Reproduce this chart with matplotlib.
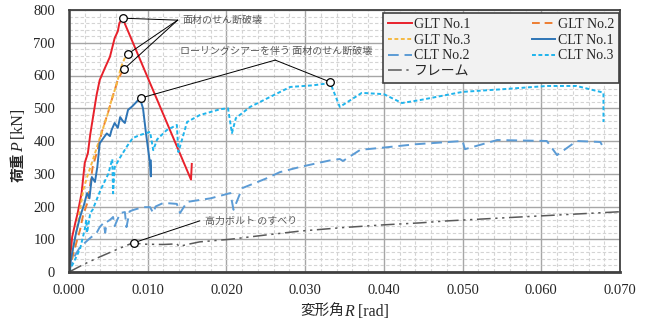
import matplotlib
matplotlib.use("Agg")
import matplotlib.pyplot as plt
import matplotlib.transforms as mtrans
import numpy as np

# ---- data ----
glt1_R = [0, 0.0004, 0.0008, 0.0011, 0.0016, 0.0020, 0.0024, 0.0027, 0.0031, 0.0035, 0.0039,
          0.0046, 0.0052, 0.0058, 0.0062, 0.0064, 0.0068, 0.0155, 0.0156]
glt1_P = [0, 107, 150, 180, 241, 333, 363, 420, 480, 540, 586,
          625, 657, 714, 735, 760, 775, 282, 330]

glt2_R = [0, 0.0005, 0.0010, 0.0014, 0.0018, 0.0024, 0.0030, 0.0036, 0.0042, 0.0050,
          0.0056, 0.0062, 0.0066, 0.0070]
glt2_P = [0, 50, 95, 128, 175, 215, 320, 370, 430, 490, 540, 586, 605, 620]

glt3_R = [0, 0.0005, 0.0010, 0.0014, 0.0018, 0.0023, 0.0030, 0.0036, 0.0042, 0.0048,
          0.0054, 0.0061, 0.0066, 0.0072]
glt3_P = [0, 70, 130, 190, 250, 290, 340, 385, 430, 473, 525, 577, 625, 660]

clt1_R = [0, 0.0004, 0.0009, 0.0014, 0.0019, 0.0023, 0.0026, 0.0029, 0.0033, 0.0036, 0.0039,
          0.0044, 0.0048, 0.0052, 0.0054, 0.0058, 0.0062, 0.0065, 0.0068, 0.0071, 0.0075,
          0.0080, 0.0086, 0.0090, 0.0094, 0.0098, 0.0103, 0.0104, 0.0104]
clt1_P = [0, 58, 120, 168, 205, 241, 225, 290, 275, 321, 393,
          410, 423, 415, 433, 455, 440, 473, 462, 455, 495,
          505, 520, 531, 500, 420, 330, 292, 340]

clt2_R = [0, 0.0005, 0.0014, 0.0027, 0.0035, 0.0039, 0.0044, 0.0046, 0.0048, 0.0052, 0.0056,
          0.0058, 0.0065, 0.0071, 0.0073, 0.0077, 0.0081, 0.0094, 0.0103, 0.0107, 0.0110,
          0.0120, 0.0137, 0.0141, 0.0150, 0.0180, 0.0205, 0.0209, 0.0220, 0.0250, 0.0268,
          0.0294, 0.0330, 0.0344, 0.0348, 0.0370, 0.0400, 0.0440, 0.0500, 0.0503, 0.0522,
          0.0544, 0.0607, 0.0620, 0.0645, 0.0675, 0.0677]
clt2_P = [0, 40, 76, 104, 119, 137, 150, 120, 153, 159, 168,
          140, 180, 183, 137, 185, 189, 198, 198, 180, 200,
          211, 208, 180, 214, 225, 241, 190, 256, 285, 305,
          321, 340, 345, 339, 373, 380, 390, 400, 375, 388,
          403, 400, 357, 400, 397, 388]

clt3_R = [0, 0.0005, 0.0014, 0.0020, 0.0022, 0.0023, 0.0027, 0.0030, 0.0040, 0.0050, 0.0055,
          0.0056, 0.0058, 0.0065, 0.0074, 0.0081, 0.0090, 0.0103, 0.0107, 0.0112, 0.0124,
          0.0137, 0.0139, 0.0150, 0.0166, 0.0192, 0.0202, 0.0207, 0.0212, 0.0230, 0.0260,
          0.0281, 0.0310, 0.0332, 0.0344, 0.0372, 0.0400, 0.0423, 0.0446, 0.0500, 0.0550,
          0.0607, 0.0645, 0.0675, 0.0679, 0.0679]
clt3_P = [0, 25, 70, 130, 160, 120, 180, 190, 250, 300, 345,
          240, 320, 350, 385, 409, 418, 428, 372, 405, 433,
          449, 366, 458, 479, 497, 500, 424, 470, 504, 540,
          565, 570, 577, 504, 547, 543, 516, 525, 550, 558,
          568, 568, 550, 547, 458]

frame_R = [0, 0.0020, 0.0039, 0.0060, 0.0081, 0.0095, 0.0120, 0.0137, 0.0140, 0.0150, 0.0166,
           0.0205, 0.0250, 0.0294, 0.0350, 0.0400, 0.0446, 0.0480, 0.0573, 0.0700]
frame_P = [0, 25, 46, 68, 89, 85, 84, 86, 78, 84, 92,
           100, 113, 125, 136, 144, 150, 156, 168, 184]

# annotated points
mark_R = [0.0068, 0.0075, 0.0070, 0.0091, 0.0332, 0.0082]
mark_P = [775, 666, 620, 531, 580, 89]

SERIF = ['Liberation Serif', 'Noto Sans CJK JP']
CJK = ['Noto Sans CJK JP', 'DejaVu Sans']

fig = plt.figure(figsize=(6.52, 3.27), dpi=100)
ax = fig.add_axes([69/652, 55/327, 551/652, 262/327])

l_g1, = ax.plot(glt1_R, glt1_P, color='#e8212b', lw=1.4, label='GLT No.1')
l_g2, = ax.plot(glt2_R, glt2_P, color='#ed7d31', lw=1.4, dashes=(4, 2.5), label='GLT No.2')
l_g3, = ax.plot(glt3_R, glt3_P, color='#f5b942', lw=1.4, dashes=(2, 1.3), label='GLT No.3')
l_c1, = ax.plot(clt1_R, clt1_P, color='#2e75b6', lw=1.4, label='CLT No.1')
l_c2, = ax.plot(clt2_R, clt2_P, color='#5b9bd5', lw=1.4, dashes=(5.5, 3), label='CLT No.2')
l_c3, = ax.plot(clt3_R, clt3_P, color='#1fb4ec', lw=1.4, dashes=(2, 1.3), label='CLT No.3')
l_fr, = ax.plot(frame_R, frame_P, color='#595959', lw=1.1,
                dashes=(9, 3, 1.5, 3, 1.5, 3), label='フレーム')

# annotation leader lines
ann_col = '#000000'
apex1 = (0.0138, 769)
for i in range(3):
    ax.plot([mark_R[i], apex1[0]], [mark_P[i], apex1[1]], color=ann_col, lw=0.7)
apex2 = (0.0262, 647)
for i in (3, 4):
    ax.plot([mark_R[i], apex2[0]], [mark_P[i], apex2[1]], color=ann_col, lw=0.7)
apex3 = (0.0166, 156)
ax.plot([mark_R[5], apex3[0]], [mark_P[5], apex3[1]], color=ann_col, lw=0.7)
ax.plot(mark_R, mark_P, ls='none', marker='o', ms=5.5, mfc='white', mec='black', mew=0.9, zorder=5)

ax.text(0.0144, 769, '面材のせん断破壊', fontsize=7.2, color='#595959', family=CJK,
        ha='left', va='center')
ax.text(0.0263, 676, 'ローリングシアーを伴う 面材のせん断破壊', fontsize=7.2, color='#595959',
        family=CJK, ha='center', va='center')
ax.text(0.0173, 155, '高力ボルト のすべり', fontsize=7.2, color='#595959', family=CJK,
        ha='left', va='center')

ax.set_xlim(0, 0.070)
ax.set_ylim(0, 800)
ax.set_xticks(np.arange(0, 0.0701, 0.01))
ax.set_xticks(np.arange(0, 0.0701, 0.002), minor=True)
ax.set_yticks(np.arange(0, 801, 100))
ax.set_yticks(np.arange(0, 801, 20), minor=True)
ax.set_xticklabels(['%.3f' % v for v in np.arange(0, 0.0701, 0.01)])
ax.grid(which='minor', color='#d4d4d4', lw=0.8, ls=(0, (3, 2)))
ax.grid(which='major', color='#a6a6a6', lw=1.0, ls='-')
ax.set_axisbelow(True)
ax.tick_params(which='both', length=0)
ax.tick_params(axis='x', pad=9)
ax.tick_params(axis='y', pad=10)
for lab in ax.get_xticklabels() + ax.get_yticklabels():
    lab.set_family(SERIF)
    lab.set_fontsize(10.5)
    lab.set_color('#262626')
for s in ax.spines.values():
    s.set_color('#404040')
    s.set_linewidth(1.3)
ax.spines['bottom'].set_linewidth(2)
ax.spines['left'].set_linewidth(1.8)

leg = ax.legend([l_g1, l_g3, l_c2, l_fr, l_g2, l_c1, l_c3],
                ['GLT No.1', 'GLT No.3', 'CLT No.2', 'フレーム', 'GLT No.2', 'CLT No.1', 'CLT No.3'],
                ncol=2, loc='upper left', bbox_to_anchor=(0.570, 0.9885, 0.4285, 0.0),
                mode='expand', prop={'family': SERIF, 'size': 10}, fancybox=False,
                framealpha=1, facecolor='#f2f2f2', edgecolor='#404040',
                handlelength=1.7, handletextpad=0.2, labelspacing=0.2,
                borderpad=0.35, borderaxespad=0, columnspacing=1.0)
leg.get_frame().set_linewidth(1.2)
for t in leg.get_texts():
    t.set_color('#262626')

# axis labels from pieces (mixed fonts)
renderer = fig.canvas.get_renderer()
ident = mtrans.IdentityTransform()
H = 327


def rich(pieces, cx, cy, rot):
    objs = []
    for s, kw in pieces:
        t = fig.text(0, 0, s, transform=ident, rotation=rot, rotation_mode='anchor',
                     ha='left', va='baseline', **kw)
        objs.append(t)
    sizes = []
    for t in objs:
        bb = t.get_window_extent(renderer)
        sizes.append(bb.height if rot else bb.width)
    total = sum(sizes)
    pos = (cy if rot else cx) - total / 2
    for t, w in zip(objs, sizes):
        if rot:
            t.set_position((cx, pos))
        else:
            t.set_position((pos, cy))
        pos += w


rich([('変形角', dict(family=CJK, fontsize=10.5, color='#262626')),
      ('R', dict(family='Liberation Serif', style='italic', fontsize=11.5, color='#262626')),
      (' [rad]', dict(family='Liberation Serif', fontsize=11.5, color='#262626'))],
     345, H - 316, 0)
rich([('荷重', dict(family=CJK, fontsize=10.5, weight='bold', color='#262626')),
      ('P', dict(family='Liberation Serif', style='italic', fontsize=11.5, color='#262626')),
      (' [kN]', dict(family='Liberation Serif', fontsize=11.5, color='#262626'))],
     23, H - 145, 90)

plt.savefig('out.png', dpi=100)
